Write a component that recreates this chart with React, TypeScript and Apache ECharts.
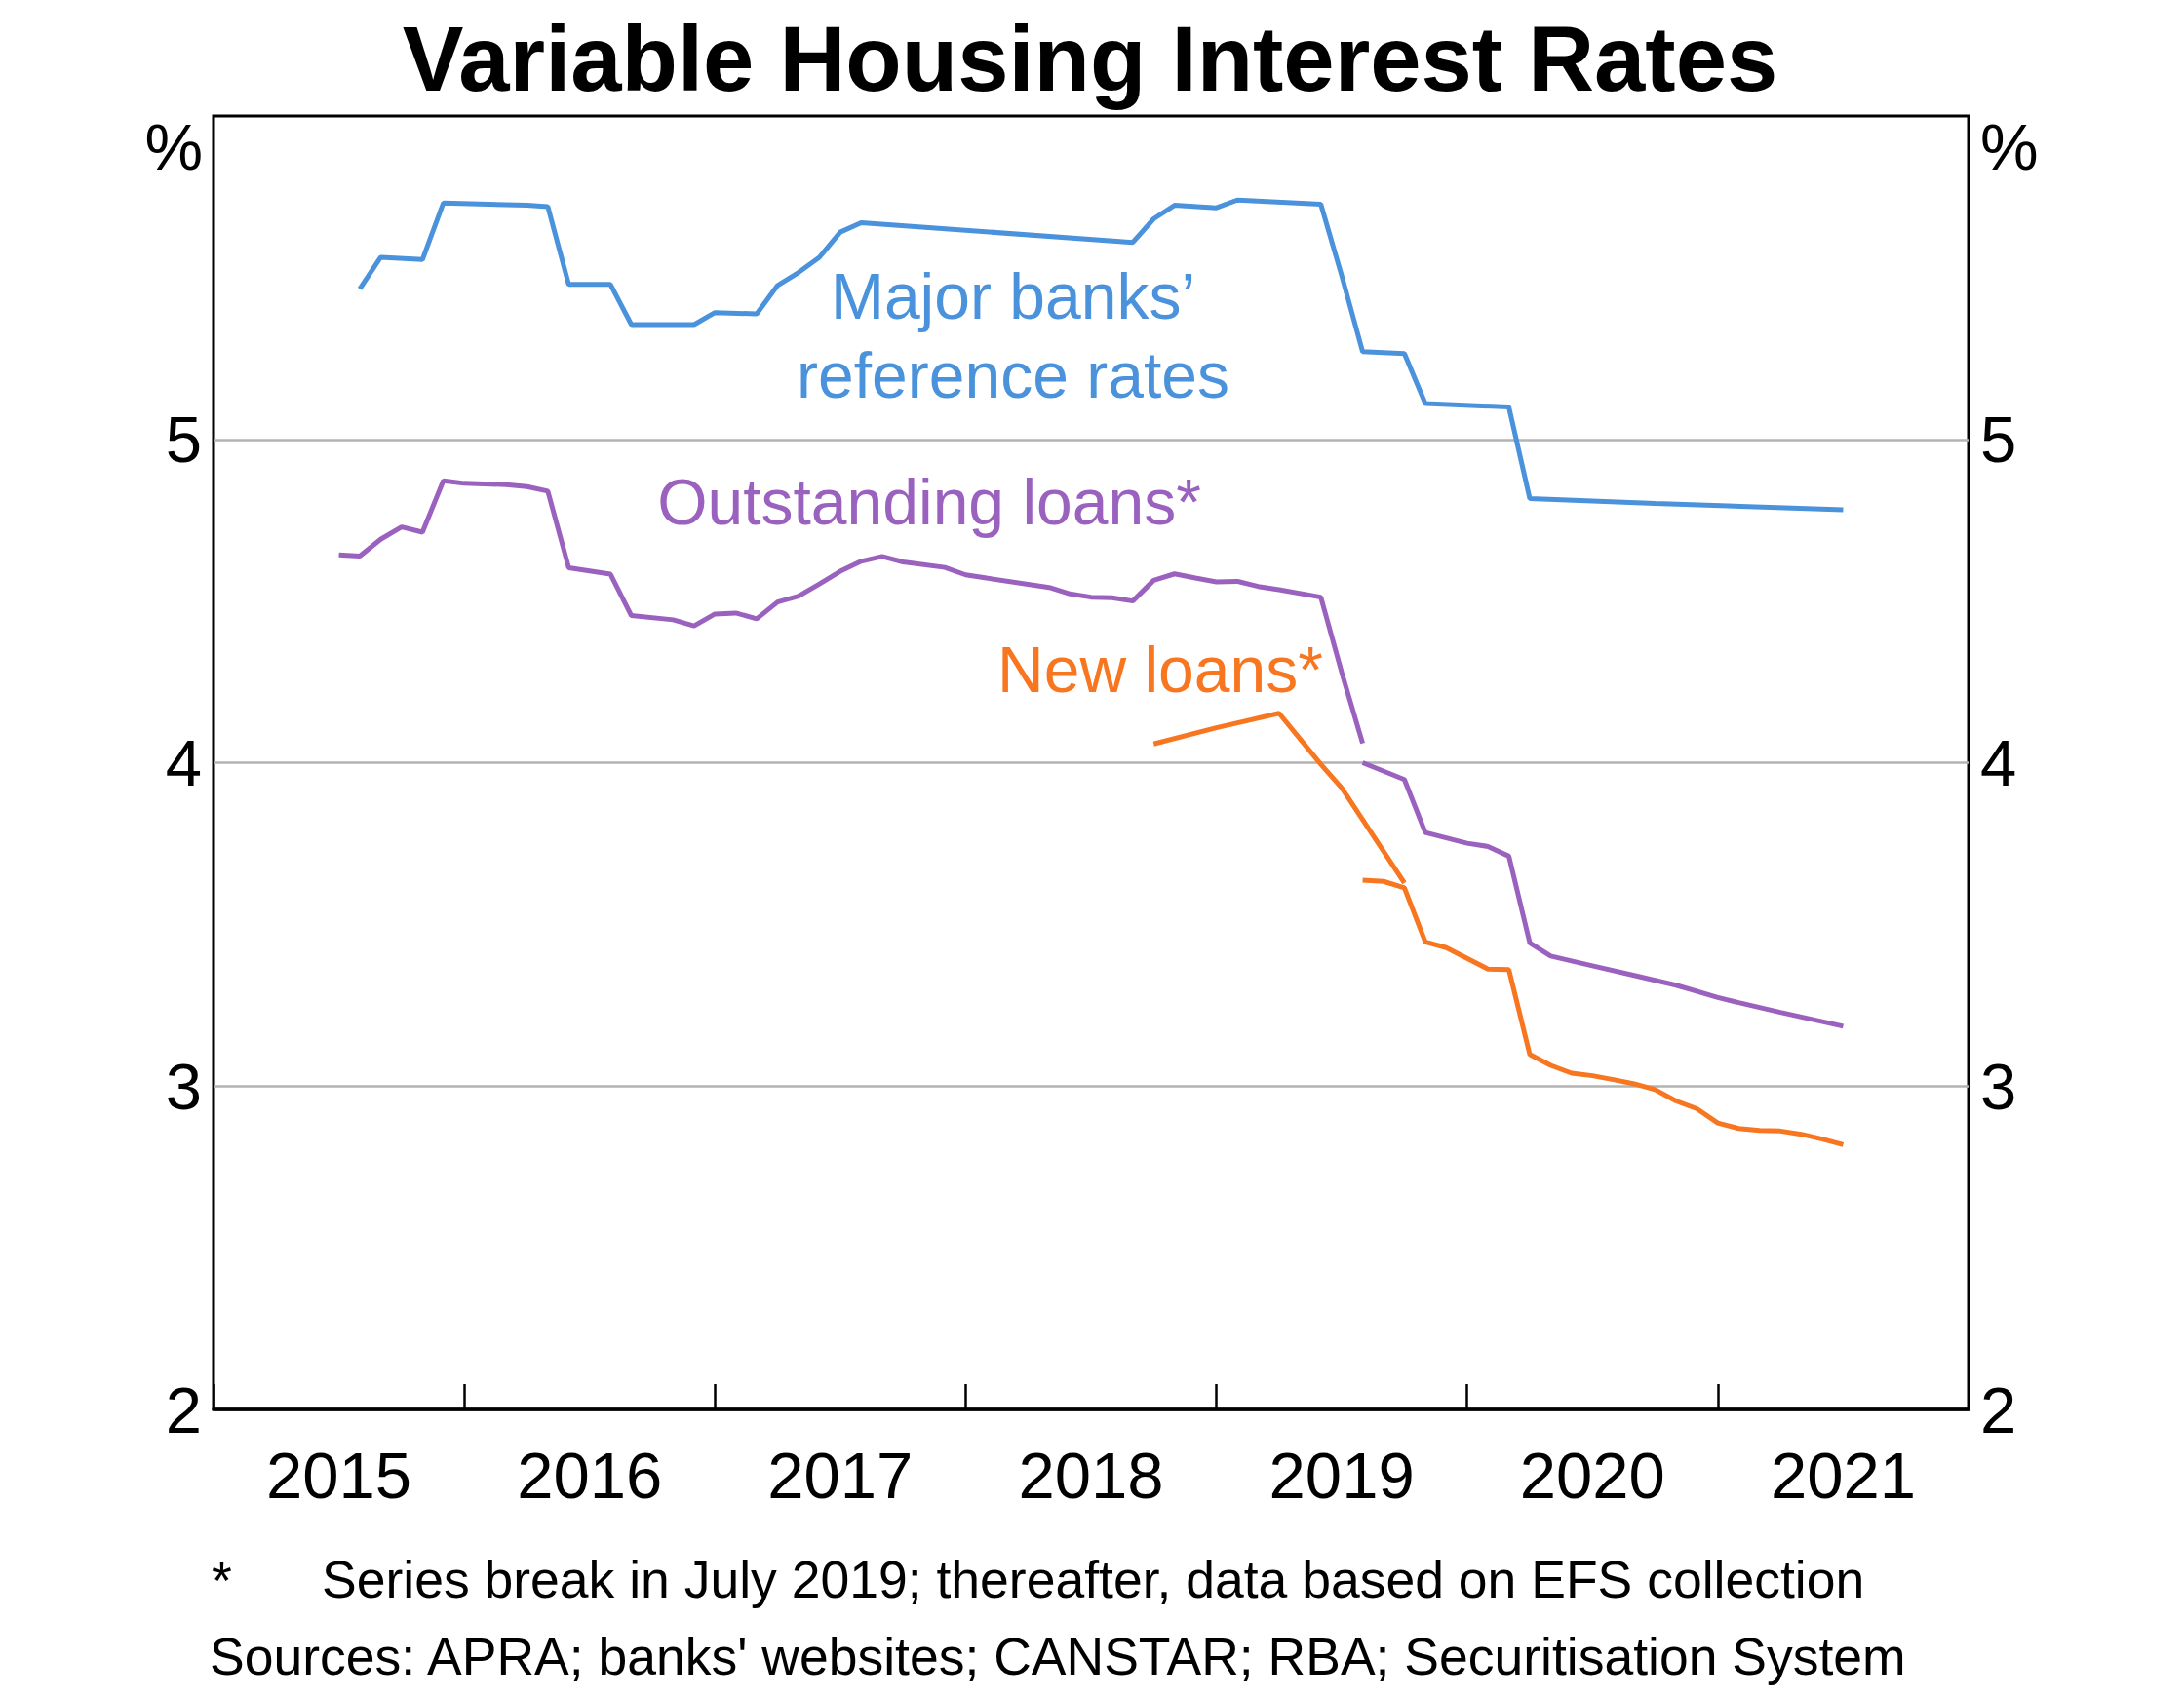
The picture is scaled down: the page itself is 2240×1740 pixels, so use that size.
import React, { useEffect, useRef } from "react";
import * as echarts from "echarts";

const yearLabels = ["2015", "2016", "2017", "2018", "2019", "2020", "2021"];
const yTicks = [2, 3, 4, 5, 6];

const majorDates = ["2015-08", "2015-09", "2015-11", "2015-12", "2016-04", "2016-05", "2016-06", "2016-08", "2016-09", "2016-12", "2017-01", "2017-03", "2017-04", "2017-05", "2017-06", "2017-07", "2017-08", "2018-09", "2018-10", "2018-11", "2019-01", "2019-02", "2019-06", "2019-07", "2019-08", "2019-10", "2019-11", "2020-03", "2020-04", "2020-10", "2021-07"];
const majorValues = [5.465, 5.563, 5.556, 5.731, 5.724, 5.72, 5.479, 5.479, 5.355, 5.355, 5.392, 5.388, 5.476, 5.516, 5.563, 5.641, 5.67, 5.609, 5.682, 5.724, 5.716, 5.74, 5.727, 5.506, 5.271, 5.265, 5.111, 5.1, 4.817, 4.802, 4.782];

const outstandingOldDates = ["2015-07", "2015-08", "2015-09", "2015-10", "2015-11", "2015-12", "2016-01", "2016-03", "2016-04", "2016-05", "2016-06", "2016-08", "2016-09", "2016-11", "2016-12", "2017-01", "2017-02", "2017-03", "2017-04", "2017-05", "2017-06", "2017-07", "2017-08", "2017-09", "2017-10", "2017-12", "2018-01", "2018-02", "2018-05", "2018-06", "2018-07", "2018-08", "2018-09", "2018-10", "2018-11", "2018-12", "2019-01", "2019-02", "2019-03", "2019-04", "2019-06", "2019-07", "2019-08"];
const outstandingOldValues = [4.643, 4.639, 4.691, 4.729, 4.713, 4.872, 4.864, 4.86, 4.854, 4.84, 4.603, 4.583, 4.455, 4.442, 4.423, 4.46, 4.463, 4.445, 4.497, 4.515, 4.553, 4.592, 4.623, 4.638, 4.621, 4.604, 4.581, 4.571, 4.542, 4.522, 4.512, 4.51, 4.5, 4.564, 4.584, 4.571, 4.559, 4.561, 4.545, 4.535, 4.512, 4.279, 4.06];

const outstandingNewDates = ["2019-08", "2019-10", "2019-11", "2020-01", "2020-02", "2020-03", "2020-04", "2020-05", "2020-07", "2020-09", "2020-11", "2021-01", "2021-02", "2021-04", "2021-07"];
const outstandingNewValues = [4.0, 3.948, 3.784, 3.751, 3.741, 3.711, 3.443, 3.402, 3.372, 3.342, 3.312, 3.274, 3.258, 3.228, 3.185];

const newLoansOldDates = ["2018-10", "2019-01", "2019-04", "2019-06", "2019-07", "2019-10"];
const newLoansOldValues = [4.058, 4.108, 4.153, 3.995, 3.922, 3.628];

const newLoansNewDates = ["2019-08", "2019-09", "2019-10", "2019-11", "2019-12", "2020-02", "2020-03", "2020-04", "2020-05", "2020-06", "2020-07", "2020-08", "2020-09", "2020-10", "2020-11", "2020-12", "2021-01", "2021-02", "2021-03", "2021-04", "2021-05", "2021-06", "2021-07"];
const newLoansNewValues = [3.637, 3.633, 3.613, 3.446, 3.428, 3.362, 3.36, 3.098, 3.064, 3.04, 3.032, 3.02, 3.007, 2.989, 2.954, 2.93, 2.886, 2.869, 2.863, 2.861, 2.851, 2.836, 2.819];

const FONT = "'Liberation Sans', Arial, Helvetica, sans-serif";
const BLUE = "#4A92DB";
const PURPLE = "#9A62BE";
const ORANGE = "#F7761F";

const toYear = (d: string) => {
  const [y, m] = d.split("-").map(Number);
  return y + (m - 1) / 12;
};
const pairs = (dates: string[], vals: number[]) => dates.map((d, i) => [toYear(d), vals[i]]);

export default function App() {
  const ref = useRef<HTMLDivElement>(null);
  useEffect(() => {
    document.body.style.margin = "0";
    if (!ref.current) return;
    const chart = echarts.init(ref.current, null, { renderer: "svg" });
    const lineSeries = (name: string, data: number[][], color: string) => ({
      name,
      type: "line",
      xAxisIndex: 1,
      yAxisIndex: 0,
      data,
      showSymbol: false,
      symbol: "none",
      lineStyle: { color, width: 5 },
      itemStyle: { color },
      z: 5,
    });
    const yAxisBase = {
      type: "value",
      min: yTicks[0],
      max: yTicks[yTicks.length - 1],
      interval: 1,
      axisLine: { show: false },
      axisTick: { show: false },
      axisLabel: {
        fontSize: 67,
        color: "#000",
        fontFamily: FONT,
        margin: 12,
        formatter: (v: number) => (v === 6 ? "" : String(v)),
      },
    };
    const text = (t: string, x: number, y: number, size: number, color: string, align = "center", weight = "normal") => ({
      type: "text",
      x,
      y,
      style: { text: t, fill: color, font: `${weight} ${size}px ${FONT}`, align, verticalAlign: "middle" },
      z: 10,
    });
    chart.setOption({
      animation: false,
      backgroundColor: "#fff",
      grid: { left: 219, right: 221, top: 119, bottom: 294, show: true, borderColor: "#000", borderWidth: 3, containLabel: false },
      xAxis: [
        {
          type: "category",
          data: yearLabels,
          boundaryGap: true,
          position: "bottom",
          axisLine: { show: true, lineStyle: { color: "#000", width: 3.5 } },
          axisTick: { show: true, inside: true, length: 26, lineStyle: { color: "#000", width: 2.5 } },
          axisLabel: { fontSize: 67, color: "#000", fontFamily: FONT, margin: 34 },
          splitLine: { show: false },
        },
        { type: "value", min: 2015, max: 2022, show: false },
      ],
      yAxis: [
        {
          ...yAxisBase,
          position: "left",
          splitLine: { show: true, showMinLine: false, showMaxLine: false, lineStyle: { color: "#b3b3b3", width: 2.5 } },
        },
        { ...yAxisBase, position: "right", splitLine: { show: false } },
      ],
      series: [
        lineSeries("Major banks' reference rates", pairs(majorDates, majorValues), BLUE),
        lineSeries("Outstanding loans (old)", pairs(outstandingOldDates, outstandingOldValues), PURPLE),
        lineSeries("Outstanding loans (EFS)", pairs(outstandingNewDates, outstandingNewValues), PURPLE),
        lineSeries("New loans (old)", pairs(newLoansOldDates, newLoansOldValues), ORANGE),
        lineSeries("New loans (EFS)", pairs(newLoansNewDates, newLoansNewValues), ORANGE),
      ],
      graphic: [
        text("Variable Housing Interest Rates", 1118, 60, 94, "#000", "center", "bold"),
        text("%", 208, 150, 67, "#000", "right"),
        text("%", 2031, 150, 67, "#000", "left"),
        text("Major banks\u2019", 1039, 304, 66, BLUE),
        text("reference rates", 1039, 385, 66, BLUE),
        text("Outstanding loans*", 953, 515, 66, PURPLE),
        text("New loans*", 1190, 687, 66, ORANGE),
        text("*", 217, 1621, 53.5, "#000", "left"),
        text("Series break in July 2019; thereafter, data based on EFS collection", 330, 1620, 53.5, "#000", "left"),
        text("Sources: APRA; banks' websites; CANSTAR; RBA; Securitisation System", 215, 1699, 53.5, "#000", "left"),
      ],
    });
    return () => chart.dispose();
  }, []);
  return <div ref={ref} style={{ width: 2240, height: 1740 }} />;
}
